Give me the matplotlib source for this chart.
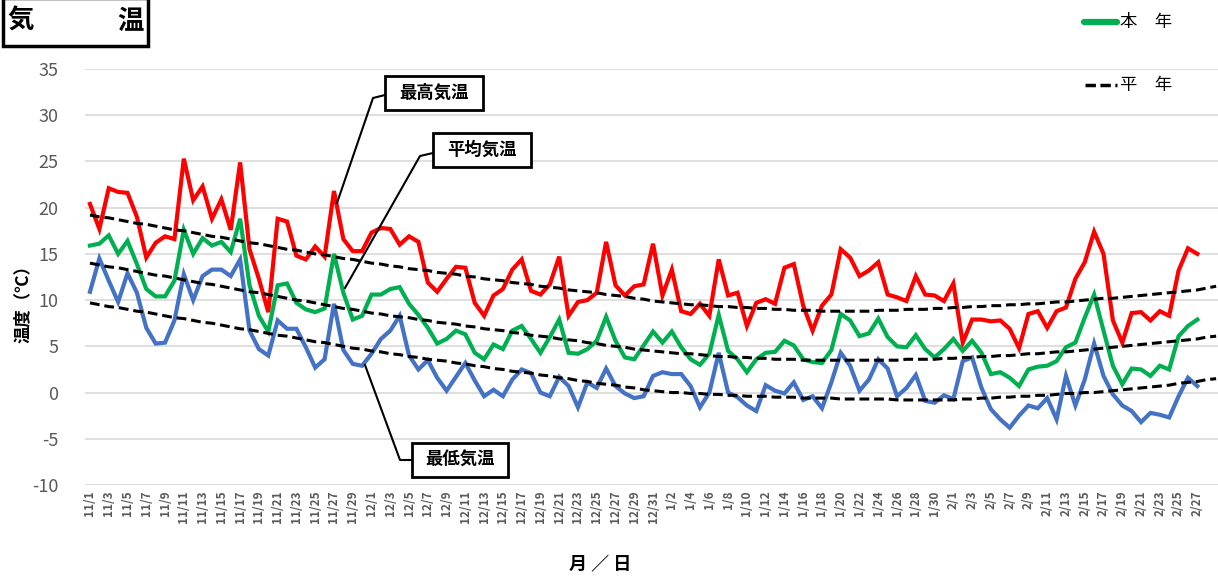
import matplotlib
matplotlib.use("Agg")
import matplotlib.pyplot as plt
from matplotlib.lines import Line2D
from matplotlib.patches import Rectangle
import pandas as pd

plt.rcParams['font.family'] = ['Noto Sans CJK JP', 'DejaVu Sans']

# ---------------- data ----------------
dates = pd.date_range('2023-11-01', '2024-02-29')   # category axis (121 days)
date_labels = [f"{d.month}/{d.day}" for d in dates]

max_temp = [20.4, 17.7, 22.1, 21.7, 21.6, 19.0, 14.6, 16.2, 16.9, 16.6, 25.3, 20.8, 22.3, 18.8, 20.9,
            17.6, 24.9, 15.5, 12.3, 8.7, 18.8, 18.5, 14.8, 14.4, 15.8, 14.7, 21.8, 16.6, 15.3, 15.3,
            17.3, 17.8, 17.7, 16.0, 16.9, 16.3, 11.9, 10.9, 12.3, 13.6, 13.5, 9.7, 8.3, 10.5, 11.2,
            13.3, 14.4, 11.0, 10.6, 11.7, 14.7, 8.3, 9.8, 10.0, 10.8, 16.3, 11.6, 10.5, 11.5, 11.7, 16.1,
            10.5, 13.3, 8.8, 8.5, 9.6, 8.3, 14.4, 10.5, 10.8, 7.2, 9.7, 10.1, 9.6, 13.5, 13.9,
            9.4, 6.7, 9.4, 10.6, 15.5, 14.6, 12.6, 13.2, 14.1, 10.6, 10.3, 9.9, 12.6, 10.6, 10.5, 9.9,
            11.8, 5.4, 7.9, 7.9, 7.7, 7.8, 6.9, 4.8, 8.5, 8.8, 7.0, 8.8, 9.2, 12.3, 14.1, 17.4, 15.0,
            7.8, 5.4, 8.6, 8.7, 7.8, 8.8, 8.3, 13.2, 15.6, 15.0]

mean_temp = [15.9, 16.1, 17.0, 15.0, 16.4, 13.9, 11.2, 10.4, 10.4, 12.1, 17.6, 15.0, 16.7, 15.9, 16.3,
             15.2, 18.8, 11.6, 8.3, 6.6, 11.6, 11.8, 9.7, 9.0, 8.7, 9.1, 15.0, 10.8, 7.9, 8.3,
             10.6, 10.6, 11.2, 11.4, 9.6, 8.4, 7.0, 5.3, 5.8, 6.7, 6.3, 4.3, 3.6, 5.2, 4.7,
             6.7, 7.2, 5.8, 4.3, 6.0, 7.9, 4.3, 4.2, 4.7, 5.6, 8.2, 5.6, 3.8, 3.6, 5.1, 6.6,
             5.4, 6.6, 4.9, 3.6, 3.0, 4.2, 8.4, 4.5, 3.6, 2.2, 3.6, 4.3, 4.4, 5.6, 5.1,
             3.6, 3.3, 3.2, 4.6, 8.5, 7.8, 6.1, 6.4, 8.0, 6.0, 5.0, 4.9, 6.2, 4.7, 3.8, 4.7,
             5.8, 4.5, 5.6, 4.3, 2.0, 2.2, 1.6, 0.7, 2.5, 2.8, 2.9, 3.4, 4.9, 5.4, 8.1, 10.6, 6.7,
             2.9, 0.9, 2.6, 2.5, 1.8, 2.9, 2.5, 6.1, 7.2, 7.9]

min_temp = [10.9, 14.5, 12.1, 9.8, 12.9, 10.8, 7.0, 5.3, 5.4, 7.8, 12.8, 10.0, 12.6, 13.3, 13.3,
            12.6, 14.4, 6.7, 4.7, 4.0, 7.8, 6.9, 6.9, 4.9, 2.7, 3.6, 9.6, 4.6, 3.1, 2.9,
            4.2, 5.8, 6.7, 8.3, 4.0, 2.5, 3.5, 1.6, 0.2, 1.7, 3.2, 1.3, -0.4, 0.3, -0.4,
            1.4, 2.5, 2.1, 0.0, -0.4, 1.7, 0.7, -1.6, 1.1, 0.5, 2.6, 0.7, -0.1, -0.6, -0.4, 1.8,
            2.2, 2.0, 2.0, 0.7, -1.6, 0.0, 4.3, 0.0, -0.5, -1.4, -2.0, 0.8, 0.2, -0.1, 1.1,
            -0.8, -0.4, -1.7, 1.1, 4.3, 2.9, 0.2, 1.4, 3.6, 2.6, -0.4, 0.5, 1.9, -0.9, -1.1, -0.3,
            -0.7, 3.4, 3.8, 0.5, -1.8, -2.9, -3.8, -2.5, -1.4, -1.7, -0.6, -2.9, 1.8, -1.4, 1.4, 5.3, 1.8,
            -0.2, -1.4, -2.0, -3.2, -2.2, -2.4, -2.7, -0.4, 1.6, 0.7]

normal_max = [19.2, 19.0, 18.9, 18.7, 18.5, 18.3, 18.2, 18.0, 17.8, 17.6, 17.5, 17.3, 17.1, 16.9, 16.8,
              16.6, 16.4, 16.2, 16.1, 15.9, 15.7, 15.5, 15.4, 15.2, 15.0, 14.9, 14.7, 14.5, 14.4, 14.2,
              14.0, 13.9, 13.7, 13.6, 13.4, 13.3, 13.2, 13.0, 12.9, 12.8, 12.6, 12.5, 12.3, 12.2, 12.1,
              11.9, 11.8, 11.7, 11.5, 11.4, 11.3, 11.1, 11.0, 10.9, 10.8, 10.6, 10.5, 10.4, 10.2, 10.1,
              9.9, 9.8, 9.7, 9.6, 9.5, 9.5, 9.4, 9.3, 9.3, 9.2, 9.2, 9.1, 9.1, 9.0, 9.0,
              8.9, 8.9, 8.9, 8.8, 8.8, 8.8, 8.8, 8.8, 8.8, 8.9, 8.9, 8.9, 9.0, 9.0, 9.0,
              9.1, 9.1, 9.2, 9.2, 9.3, 9.3, 9.4, 9.4, 9.5, 9.5, 9.6, 9.6, 9.7, 9.8, 9.8,
              9.9, 10.0, 10.1, 10.2, 10.2, 10.3, 10.4, 10.5, 10.6, 10.7, 10.8, 10.9, 11.0, 11.1, 11.3,
              11.5]

normal_mean = [14.0, 13.8, 13.6, 13.5, 13.3, 13.1, 12.9, 12.7, 12.6, 12.4, 12.2, 12.0, 11.8, 11.7, 11.5,
               11.3, 11.1, 10.9, 10.8, 10.6, 10.4, 10.2, 10.0, 9.9, 9.7, 9.5, 9.3, 9.1, 9.0, 8.8,
               8.6, 8.5, 8.3, 8.2, 8.1, 7.9, 7.8, 7.6, 7.5, 7.4, 7.2, 7.1, 6.9, 6.8, 6.7,
               6.5, 6.4, 6.2, 6.1, 6.0, 5.8, 5.7, 5.6, 5.4, 5.3, 5.1, 5.0, 4.9, 4.7, 4.6,
               4.5, 4.4, 4.3, 4.2, 4.2, 4.1, 4.0, 3.9, 3.9, 3.8, 3.8, 3.7, 3.7, 3.6, 3.6,
               3.6, 3.5, 3.5, 3.5, 3.5, 3.5, 3.5, 3.5, 3.5, 3.5, 3.5, 3.5, 3.6, 3.6, 3.6,
               3.6, 3.7, 3.7, 3.8, 3.8, 3.9, 3.9, 4.0, 4.0, 4.1, 4.2, 4.2, 4.3, 4.4, 4.4,
               4.5, 4.6, 4.7, 4.8, 4.9, 5.0, 5.1, 5.2, 5.3, 5.4, 5.5, 5.6, 5.7, 5.8, 6.0,
               6.1]

normal_min = [9.7, 9.5, 9.3, 9.2, 9.0, 8.8, 8.7, 8.5, 8.3, 8.1, 8.0, 7.8, 7.6, 7.5, 7.3,
              7.1, 6.9, 6.8, 6.6, 6.4, 6.2, 6.1, 5.9, 5.7, 5.5, 5.4, 5.2, 5.0, 4.8, 4.7,
              4.5, 4.4, 4.2, 4.1, 3.9, 3.8, 3.6, 3.5, 3.4, 3.2, 3.1, 2.9, 2.8, 2.6, 2.5,
              2.3, 2.2, 2.1, 1.9, 1.8, 1.6, 1.5, 1.3, 1.2, 1.0, 0.9, 0.8, 0.6, 0.5, 0.3,
              0.2, 0.1, 0.0, 0.0, -0.1, -0.1, -0.2, -0.2, -0.3, -0.3, -0.4, -0.4, -0.4, -0.5, -0.5,
              -0.5, -0.6, -0.6, -0.6, -0.6, -0.7, -0.7, -0.7, -0.7, -0.7, -0.7, -0.8, -0.8, -0.8, -0.8,
              -0.8, -0.8, -0.8, -0.7, -0.7, -0.6, -0.6, -0.5, -0.5, -0.4, -0.4, -0.3, -0.3, -0.2, -0.1,
              -0.1, 0.0, 0.0, 0.1, 0.2, 0.3, 0.4, 0.5, 0.6, 0.7, 0.8, 1.0, 1.1, 1.2, 1.4,
              1.5]

y_ticks = [-10, -5, 0, 5, 10, 15, 20, 25, 30, 35]

# ---------------- figure ----------------
W, H = 1218, 581
fig = plt.figure(figsize=(W / 100, H / 100), dpi=100)
fig.patch.set_facecolor('white')


def fx(x):
    return x / W


def fy(y):
    return 1 - y / H


ax = fig.add_axes([fx(85), 96 / H, (W - 85) / W, (485 - 69) / H])
ax.set_xlim(-0.53, 120.2)
ax.set_ylim(-10, 35)

x_cur = list(range(len(max_temp)))
x_all = list(range(len(dates)))

RED = '#FF0000'
GREEN = '#00B050'
BLUE = '#4472C4'

ax.plot(x_cur, max_temp, color=RED, lw=3.0, solid_joinstyle='miter', zorder=3)
ax.plot(x_cur, mean_temp, color=GREEN, lw=3.0, solid_joinstyle='miter', zorder=3)
ax.plot(x_cur, min_temp, color=BLUE, lw=3.0, solid_joinstyle='miter', zorder=3)
for ser in (normal_max, normal_mean, normal_min):
    ax.plot(x_all, ser, color='black', lw=2.2, dashes=(3.2, 1.6), zorder=4)

ax.set_yticks(y_ticks)
ax.set_yticklabels([str(v) for v in y_ticks])
ax.grid(axis='y', color='#d9d9d9', lw=1.2, zorder=0)
ax.set_axisbelow(True)
for s in ax.spines.values():
    s.set_visible(False)
ax.tick_params(axis='y', length=0, pad=19, labelsize=13, labelcolor='#595959')

tick_pos = list(range(0, 119, 2))
ax.set_xticks(tick_pos)
ax.set_xticklabels([date_labels[i] for i in tick_pos], rotation=90,
                   fontsize=8.5, fontweight='bold', color='#595959')
ax.tick_params(axis='x', length=0, pad=4)

# axis titles
fig.text(fx(600), fy(565), '月 ／ 日', ha='center', va='center', fontsize=13, fontweight='bold')
fig.text(fx(23), fy(300), '温度（℃）', ha='center', va='center', rotation=90,
         fontsize=12.5, fontweight='bold')

# title box
fig.add_artist(Rectangle((fx(3), fy(46)), (148 - 3) / W, 48 / H, transform=fig.transFigure,
                         fc='white', ec='black', lw=2.5, clip_on=False))
fig.text(fx(21), fy(21), '気', ha='center', va='center', fontsize=19, fontweight='bold')
fig.text(fx(130), fy(21), '温', ha='center', va='center', fontsize=19, fontweight='bold')

# legend
fig.add_artist(Line2D([fx(1084), fx(1117)], [fy(22), fy(22)], color=GREEN, lw=4.5,
                      solid_capstyle='round', transform=fig.transFigure))
fig.text(fx(1120), fy(22), '本　年', ha='left', va='center', fontsize=12.5)
fig.add_artist(Line2D([fx(1085), fx(1117)], [fy(85), fy(85)], color='black', lw=2.5,
                      dashes=(3, 1.3), transform=fig.transFigure))
fig.text(fx(1120), fy(85), '平　年', ha='left', va='center', fontsize=12.5)

# callouts
callouts = [
    ('最高気温', (385, 76, 483, 110), [(385, 95), (373, 98), (337, 203)]),
    ('平均気温', (433, 133, 531, 167), [(433, 153), (420, 156), (345, 288)]),
    ('最低気温', (412, 443, 508, 477), [(412, 460), (400, 460), (365, 365)]),
]
for label, (x0, y0, x1, y1), pts in callouts:
    fig.add_artist(Line2D([fx(p[0]) for p in pts], [fy(p[1]) for p in pts], color='black',
                          lw=1.5, transform=fig.transFigure, zorder=5))
    fig.add_artist(Rectangle((fx(x0), fy(y1)), (x1 - x0) / W, (y1 - y0) / H,
                             transform=fig.transFigure, fc='white', ec='black', lw=2.0,
                             zorder=6))
    fig.text(fx((x0 + x1) / 2), fy((y0 + y1) / 2), label, ha='center', va='center',
             fontsize=12.5, fontweight='bold', zorder=7)

fig.savefig('out.png', dpi=100)
